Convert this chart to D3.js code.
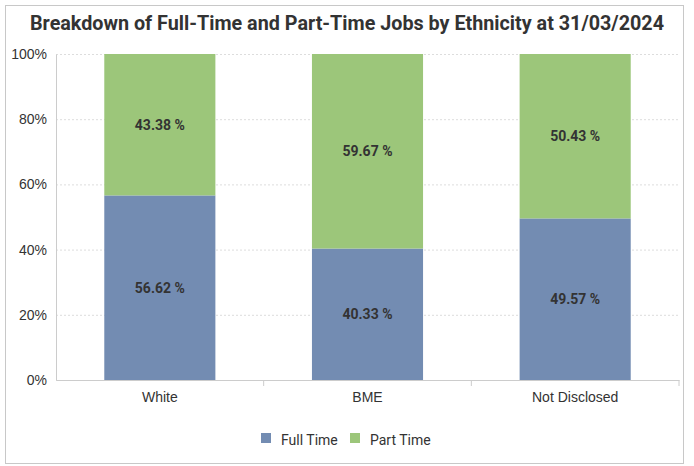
<!DOCTYPE html>
<html>
<head>
<meta charset="utf-8">
<script src="https://cdn.jsdelivr.net/npm/d3@7"></script>
<style>
  body { margin: 0; background: #fff; }
  svg { font-family: Roboto, "Noto Sans", sans-serif; }
  .axis text { font-size: 14px; fill: #333; }
  .axis path, .axis line { stroke: #ccc; }
</style>
</head>
<body>
<div id="chart"></div>
<script>
/*
Stacked 100% bar chart
*/
const categories = ["White", "BME", "Not Disclosed"];
const series = ["Full Time", "Part Time"];
const fullTime = [56.62, 40.33, 49.57];
const partTime = [43.38, 59.67, 50.43];
const yTicks = [0, 20, 40, 60, 80, 100];

const COLORS = ["#738cb2", "#9cc67a"];

const width = 694;
const height = 466;
const pad = { top: 54, right: 15, bottom: 86, left: 56 };
const innerWidth = width - pad.left - pad.right;
const innerHeight = height - pad.top - pad.bottom;

// One row per category, values keyed by series
const rows = categories.map((c, i) => ({
  key: c,
  "Full Time": fullTime[i],
  "Part Time": partTime[i],
}));

const stack = d3.stack().keys(series)(rows);

const svg = d3
  .select("#chart")
  .append("svg")
  .attr("width", width)
  .attr("height", height);

// Outer frame
svg
  .append("rect")
  .attr("x", 5.5)
  .attr("y", 5.5)
  .attr("width", 678)
  .attr("height", 458)
  .attr("fill", "none")
  .attr("stroke", "#c8c8c8");

svg
  .append("text")
  .attr("x", width / 2)
  .attr("y", 30)
  .attr("text-anchor", "middle")
  .attr("font-size", 20)
  .attr("font-weight", "bold")
  .attr("fill", "#333")
  .attr("textLength", 634)
  .attr("lengthAdjust", "spacingAndGlyphs")
  .text("Breakdown of Full-Time and Part-Time Jobs by Ethnicity at 31/03/2024");

const x = d3
  .scaleBand()
  .domain(categories)
  .range([0, innerWidth])
  .paddingInner(0.465)
  .paddingOuter(0.2325);

const y = d3.scaleLinear().domain([0, 100]).range([innerHeight, 0]);

const color = d3.scaleOrdinal().domain(series).range(COLORS);

const g = svg
  .append("g")
  .attr("transform", `translate(${pad.left},${pad.top})`);

// Grid - dotted lines only, no labels
g.append("g")
  .attr("class", "grid")
  .call(d3.axisLeft(y).tickValues(yTicks).tickSize(-innerWidth).tickFormat(""))
  .call((s) => s.select(".domain").remove())
  .call((s) => s.selectAll("text").remove())
  .selectAll("line")
  .attr("stroke", "#ddd")
  .attr("stroke-dasharray", "2,2");

// Bars
g.append("g")
  .selectAll("g")
  .data(stack)
  .join("g")
  .attr("fill", (d) => color(d.key))
  .selectAll("rect")
  .data((d) => d)
  .join("rect")
  .attr("x", (d) => x(d.data.key))
  .attr("width", x.bandwidth())
  .attr("y", (d) => y(d[1]))
  .attr("height", (d) => y(d[0]) - y(d[1]));

// Value labels
g.append("g")
  .selectAll("g")
  .data(stack)
  .join("g")
  .selectAll("text")
  .data((d) => d.map((v) => ({ v, key: d.key })))
  .join("text")
  .attr("x", (d) => x(d.v.data.key) + x.bandwidth() / 2)
  .attr("y", (d) => y((d.v[0] + d.v[1]) / 2) + 5)
  .attr("text-anchor", "middle")
  .attr("font-size", 14)
  .attr("font-weight", "bold")
  .attr("fill", "#333")
  .text((d) => d3.format(".2f")(d.v.data[d.key]) + " %");

// Axes
const step = x.step();
g.append("g")
  .attr("class", "x axis")
  .attr("transform", `translate(0,${innerHeight})`)
  .call(d3.axisBottom(x).tickSize(0).tickPadding(12).tickSizeOuter(0))
  .call((s) => {
    // Boundary ticks between categories
    const bounds = d3.range(1, categories.length + 1).map((i) => i * step);
    s.selectAll(".bound")
      .data(bounds)
      .join("line")
      .attr("class", "bound")
      .attr("x1", (d) => d)
      .attr("x2", (d) => d)
      .attr("y1", 0)
      .attr("y2", 6)
      .attr("stroke", "#ccc");
  });

g.append("g")
  .attr("class", "y axis")
  .call(
    d3
      .axisLeft(y)
      .tickValues(yTicks)
      .tickSize(0)
      .tickPadding(9)
      .tickFormat((d) => d + "%"),
  );

// Legend
const legend = svg
  .append("g")
  .attr("transform", `translate(${width / 2 - 86},440)`);

const items = legend
  .selectAll("g")
  .data(series)
  .join("g")
  .attr("transform", (d, i) => `translate(${i * 89},0)`);

items
  .append("rect")
  .attr("x", 0)
  .attr("y", -7)
  .attr("width", 10)
  .attr("height", 10)
  .attr("fill", (d) => color(d));

items
  .append("text")
  .attr("x", 20)
  .attr("y", 5)
  .attr("font-size", 14)
  .attr("fill", "#333")
  .text((d) => d);
</script>
</body>
</html>
